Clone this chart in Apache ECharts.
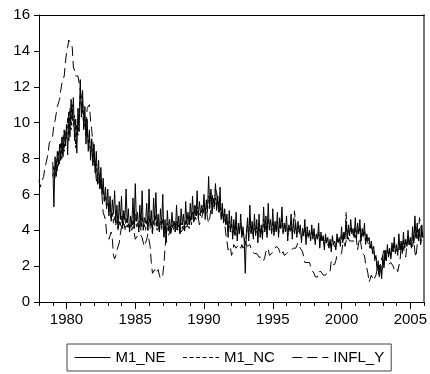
<!DOCTYPE html>
<html>
<head>
<meta charset="utf-8">
<script src="https://cdn.jsdelivr.net/npm/echarts@6/dist/echarts.min.js"></script>
<style>html,body{margin:0;padding:0;background:#fff}#c{width:430px;height:374px}</style>
</head>
<body>
<div id="c"></div>
<script>
const INFL_START = 1978; // monthly, Jan 1978 ..
const M1_START = 1979;   // monthly, Jan 1979 ..
const X_LABELS = [1980, 1985, 1990, 1995, 2000, 2005];
const Y_TICKS = [0, 2, 4, 6, 8, 10, 12, 14, 16];
const LEGEND = ['M1_NE', 'M1_NC', 'INFL_Y'];

const INFL_Y = [
6.8,6.4,6.6,6.5,7.0,7.4,7.7,7.8,8.3,8.9,8.9,9.0,
9.3,9.9,10.1,10.5,10.9,10.9,11.3,11.8,12.2,12.1,12.6,13.3,
13.9,14.2,14.6,14.6,14.4,14.2,13.1,12.9,12.6,12.6,12.6,12.5,
11.8,11.4,10.5,10.0,9.8,9.6,10.8,10.8,11.0,10.1,9.6,8.9,
8.4,7.6,6.8,6.5,6.7,7.1,6.4,5.9,5.0,5.1,4.6,3.8,
3.7,3.5,3.6,3.9,3.5,2.6,2.4,2.6,2.9,2.9,3.3,3.8,
4.2,4.6,4.8,4.6,4.2,4.2,4.2,4.3,4.3,4.3,4.1,3.9,
3.5,3.5,3.7,3.7,3.8,3.8,3.6,3.3,3.1,3.2,3.5,3.8,
3.9,3.1,2.2,1.6,1.5,1.8,1.6,1.6,1.8,1.5,1.3,1.2,
1.5,2.1,3.0,3.8,3.9,3.7,3.9,4.3,4.4,4.5,4.5,4.4,
4.0,3.9,3.9,3.9,3.9,4.0,4.1,4.0,4.2,4.2,4.2,4.4,
4.7,4.8,5.0,5.1,5.4,5.2,5.0,4.7,4.3,4.5,4.7,4.6,
5.2,5.3,5.2,4.7,4.4,4.7,4.8,5.6,6.2,6.3,6.3,6.1,
5.7,5.3,4.9,4.9,5.0,4.7,4.4,3.8,3.4,2.9,3.0,3.1,
2.6,2.8,3.2,3.2,3.0,3.1,3.2,3.1,3.0,3.2,3.0,2.9,
3.3,3.2,3.1,3.2,3.2,3.0,2.8,2.8,2.7,2.8,2.7,2.7,
2.5,2.5,2.5,2.4,2.3,2.5,2.8,2.9,3.0,2.6,2.7,2.7,
2.8,2.9,2.9,3.1,3.2,3.0,2.8,2.6,2.5,2.8,2.6,2.5,
2.7,2.7,2.8,2.9,2.9,2.8,3.0,2.9,3.0,3.0,3.3,3.3,
3.0,3.0,2.8,2.5,2.2,2.3,2.2,2.2,2.2,2.1,1.8,1.7,
1.6,1.4,1.4,1.4,1.7,1.7,1.7,1.6,1.5,1.5,1.5,1.6,
1.7,1.6,1.7,2.3,2.1,2.0,2.1,2.3,2.6,2.6,2.6,2.7,
2.7,3.2,3.8,3.1,3.2,3.7,3.7,3.4,3.5,3.4,3.4,3.4,
3.7,3.5,2.9,3.3,3.6,3.2,2.7,2.7,2.6,2.1,1.9,1.6,
1.1,1.1,1.5,1.6,1.2,1.1,1.5,1.8,1.5,2.0,2.2,2.4,
2.6,3.0,3.0,2.2,2.1,2.1,2.1,2.2,2.3,2.0,1.8,1.9,
1.9,1.7,1.7,2.3,3.1,3.3,3.0,2.7,2.5,3.2,3.5,3.3,
3.0,3.0,3.1,3.5,2.8,2.5,3.2,3.6,4.7,4.3,3.5,3.4
];

const M1_NE = [
7.8,5.3,8.1,7.0,8.4,7.6,8.8,7.9,9.2,8.1,9.6,8.7,
9.9,8.2,10.6,9.2,11.3,10.1,11.4,9.0,10.2,8.3,10.8,9.5,
12.4,10.3,11.8,9.6,10.9,8.8,10.2,8.4,9.6,7.9,9.1,7.6,
8.8,7.2,8.4,6.6,7.9,6.3,7.5,6.0,6.9,5.6,6.4,5.2,
6.3,4.8,5.9,4.5,5.7,4.9,6.2,4.4,5.4,4.1,5.6,4.6,
5.9,4.2,5.1,4.6,6.3,4.4,5.2,3.9,4.8,4.3,5.8,4.1,
6.6,4.5,5.0,3.9,5.4,4.2,6.2,4.0,4.7,4.4,5.5,4.0,
6.3,4.3,5.1,3.8,5.8,4.5,6.1,4.2,4.9,3.9,5.2,4.3,
6.0,3.6,4.6,3.3,5.1,4.0,4.6,3.8,5.0,4.2,4.5,3.9,
5.4,4.1,4.8,3.8,5.2,4.3,4.9,4.0,5.6,4.4,5.0,4.3,
5.5,4.6,5.9,4.5,5.3,4.8,6.2,4.7,5.6,4.9,5.4,5.0,
6.0,4.6,5.7,5.0,7.0,5.2,6.3,4.9,5.8,5.3,6.6,5.1,
5.9,5.0,6.4,4.6,5.5,4.4,5.2,4.3,4.9,3.6,5.1,3.9,
4.8,3.5,4.6,3.7,5.0,3.4,4.4,3.8,4.9,3.6,4.2,3.5,
1.6,3.9,4.7,3.4,5.4,3.8,4.5,3.5,4.9,3.7,4.6,3.3,
4.9,3.6,4.3,3.5,5.3,3.9,4.8,3.6,5.5,4.0,4.6,3.8,
5.2,3.7,4.5,3.9,5.0,3.6,4.7,4.1,5.3,3.8,4.4,3.9,
4.8,3.4,4.3,4.0,4.9,3.5,4.6,3.8,4.4,3.6,4.5,3.9,
4.3,3.3,4.1,3.7,4.6,3.2,4.2,3.6,4.0,3.4,4.3,3.5,
4.1,3.2,3.8,3.5,4.4,3.0,3.9,3.4,3.7,2.9,3.8,3.3,
3.6,3.0,3.5,2.8,3.7,3.2,3.4,2.9,3.8,3.3,3.6,3.1,
4.2,3.3,3.9,3.6,4.5,3.5,4.3,3.7,4.6,3.8,4.1,3.6,
4.7,3.5,4.4,3.8,4.6,3.4,4.1,3.7,4.4,3.2,3.8,3.4,
3.6,3.0,3.4,2.8,3.1,2.4,2.6,1.8,2.2,1.4,2.0,1.3,
2.6,1.9,2.9,2.3,3.2,2.5,3.0,2.4,3.3,2.8,3.6,2.7,
3.2,2.6,3.8,2.9,3.4,2.7,3.9,3.0,3.5,3.1,4.0,3.2,
3.6,3.0,4.2,3.3,4.8,3.6,4.4,3.5,4.1,3.2,4.3,3.6
];

const M1_NC = [
7.0,7.6,6.9,8.0,7.3,8.4,7.7,8.9,8.0,9.3,8.4,9.5,
9.1,10.3,8.9,10.8,9.6,11.0,9.8,10.4,8.6,9.9,9.3,10.6,
11.6,10.9,11.2,10.1,10.4,9.3,9.8,8.9,9.1,8.3,8.6,7.8,
8.1,7.5,7.7,6.9,7.2,6.5,6.8,6.1,6.3,5.7,5.9,5.3,
5.5,5.0,5.2,4.6,5.0,4.4,4.8,4.3,4.6,4.0,4.5,4.2,
4.8,4.1,4.5,4.0,4.7,4.2,4.4,3.9,4.3,4.0,4.6,4.1,
4.9,4.2,4.4,3.9,4.5,4.0,4.8,4.1,4.3,4.0,4.6,4.0,
4.8,4.1,4.5,3.8,4.6,4.2,4.9,4.0,4.4,3.9,4.5,4.0,
4.6,3.7,4.2,3.6,4.4,3.9,4.2,3.8,4.3,4.0,4.2,3.9,
4.5,4.0,4.3,3.8,4.4,4.1,4.3,3.9,4.6,4.2,4.4,4.1,
4.7,4.3,5.0,4.4,4.8,4.6,5.3,4.7,5.0,4.8,5.1,4.9,
5.5,5.0,5.4,5.1,5.9,5.6,6.1,5.4,5.7,5.2,5.8,5.3,
5.6,5.0,5.5,4.7,5.2,4.5,4.9,4.3,4.6,3.9,4.5,4.0,
4.4,3.7,4.2,3.8,4.5,3.6,4.1,3.9,4.4,3.7,4.0,3.6,
3.2,3.8,4.3,3.6,4.7,3.9,4.2,3.7,4.4,3.8,4.2,3.6,
4.4,3.8,4.1,3.7,4.6,4.0,4.3,3.8,4.7,4.1,4.2,3.9,
4.5,3.9,4.2,4.0,4.5,3.8,4.3,4.1,4.6,3.9,4.1,4.0,
4.3,3.7,4.1,3.9,4.4,3.8,4.2,5.1,4.1,3.8,4.2,3.9,
4.0,3.6,3.9,3.7,4.2,3.5,3.9,3.6,3.8,3.5,4.0,3.6,
3.8,3.4,3.7,3.5,3.9,3.3,3.7,3.4,3.6,3.1,3.6,3.3,
3.4,3.1,3.3,3.0,3.5,3.2,3.3,3.0,3.5,3.3,3.5,3.2,
3.8,3.4,3.7,3.5,5.0,3.6,4.0,3.7,4.2,3.8,3.9,3.7,
4.2,3.6,4.1,3.8,4.2,3.5,3.9,3.6,4.0,3.3,3.6,3.3,
3.4,3.0,3.2,2.7,2.9,2.3,2.5,2.0,2.3,1.7,2.1,1.6,
2.4,2.0,2.7,2.3,3.0,2.6,2.9,2.5,3.1,2.8,3.3,2.8,
3.0,2.7,3.4,2.9,3.2,2.8,3.5,3.0,3.3,3.1,3.6,3.2,
3.4,3.0,3.8,3.3,4.2,3.5,4.0,3.4,3.8,3.2,3.9,3.5
];

function toPairs(arr, start) {
  return arr.map((v, i) => [start + i / 12, v]);
}

const FONT = '"Liberation Sans", Arial, sans-serif';
const chart = echarts.init(document.getElementById('c'), null, { renderer: 'canvas' });

const baseX = { type: 'value', min: 1978, max: 2006, splitLine: { show: false } };

chart.setOption({
  animation: false,
  backgroundColor: '#fff',
  grid: { left: 39, right: 5, top: 15, bottom: 72 },
  xAxis: [
    Object.assign({}, baseX, {
      position: 'bottom', interval: 1,
      axisLine: { show: true, lineStyle: { color: '#000', width: 1 } },
      axisTick: { show: true, length: 4, lineStyle: { color: '#000' } },
      axisLabel: { show: true, margin: 10, color: '#000', fontSize: 15, fontFamily: FONT,
        formatter: v => (X_LABELS.indexOf(Math.round(v)) >= 0 ? String(Math.round(v)) : '') }
    }),
    Object.assign({}, baseX, {
      position: 'bottom',
      axisLine: { show: false },
      axisTick: { show: true, length: 7, customValues: X_LABELS, lineStyle: { color: '#000' } },
      axisLabel: { show: false }
    }),
    Object.assign({}, baseX, {
      position: 'top',
      axisLine: { show: true, lineStyle: { color: '#000', width: 1 } },
      axisTick: { show: false },
      axisLabel: { show: false }
    })
  ],
  yAxis: [
    {
      type: 'value', min: 0, max: 16, interval: 2, position: 'left',
      axisLine: { show: true, lineStyle: { color: '#000', width: 1 } },
      axisTick: { show: true, length: 5, lineStyle: { color: '#000' } },
      axisLabel: { margin: 9, color: '#000', fontSize: 15, fontFamily: FONT },
      splitLine: { show: false }
    },
    {
      type: 'value', min: 0, max: 16, position: 'right',
      axisLine: { show: true, lineStyle: { color: '#777', width: 2 } },
      axisTick: { show: false }, axisLabel: { show: false }, splitLine: { show: false }
    }
  ],
  legend: {
    data: LEGEND,
    left: 67, top: 344,
    padding: [6, 7],
    borderColor: '#444', borderWidth: 1,
    itemWidth: 36, itemHeight: 14, itemGap: 17,
    itemStyle: { opacity: 0 },
    lineStyle: { width: 1 },
    textStyle: { color: '#000', fontSize: 15, fontFamily: FONT }
  },
  series: [
    { name: 'INFL_Y', type: 'line', symbol: 'none', data: toPairs(INFL_Y, INFL_START),
      lineStyle: { color: '#000', width: 1, type: [10, 5] }, itemStyle: { color: '#000' } },
    { name: 'M1_NC', type: 'line', symbol: 'none', data: toPairs(M1_NC, M1_START),
      lineStyle: { color: '#000', width: 1, type: [4, 2.5] }, itemStyle: { color: '#000' } },
    { name: 'M1_NE', type: 'line', symbol: 'none', data: toPairs(M1_NE, M1_START),
      lineStyle: { color: '#000', width: 1, type: 'solid' }, itemStyle: { color: '#000' } }
  ]
});
</script>
</body>
</html>
